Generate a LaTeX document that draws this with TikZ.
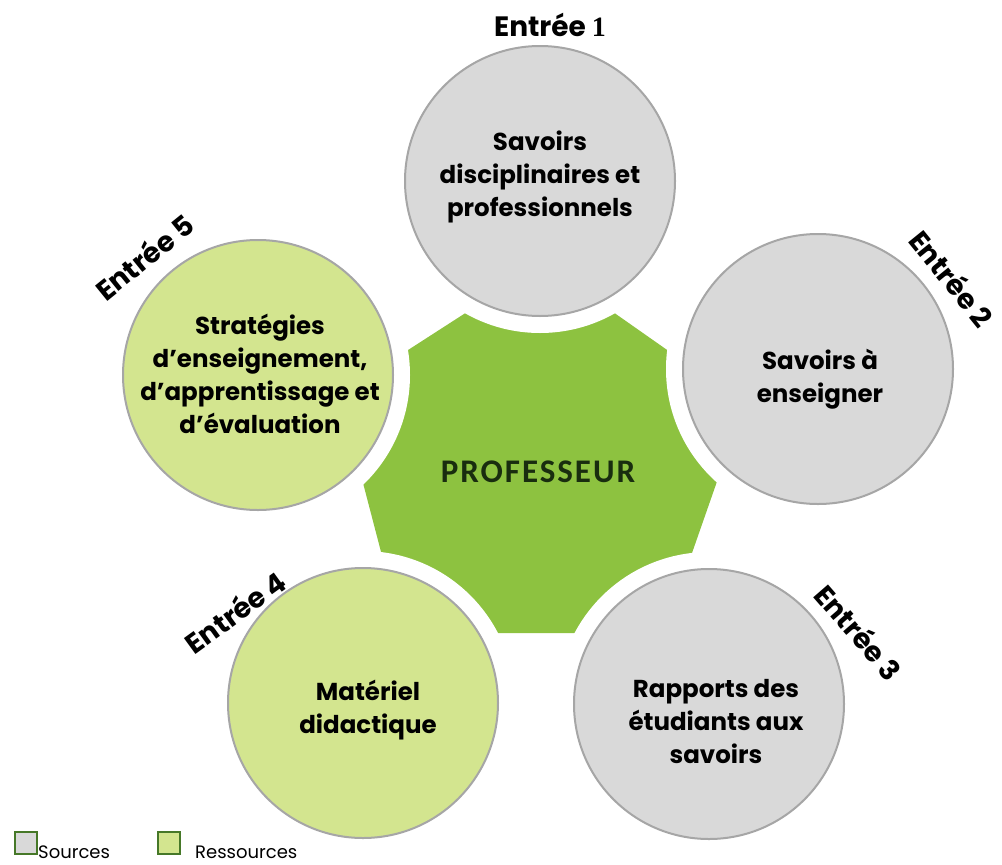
\documentclass[tikz,border=0pt]{standalone}
\usepackage{fontspec}
\setmainfont{Poppins}
\newfontfamily\calib{Carlito}[LetterSpace=6]
\newfontfamily\serfont{Liberation Serif}[UprightFont=* Bold]
\definecolor{grayfill}{RGB}{217,217,217}
\definecolor{grayline}{RGB}{166,166,166}
\definecolor{lgreen}{RGB}{211,229,143}
\definecolor{cgreen}{RGB}{141,194,64}
\definecolor{dgreen}{RGB}{70,120,40}
\definecolor{ptext}{RGB}{25,45,15}
\begin{document}
\begin{tikzpicture}[x=1pt,y=-1pt,
  src/.style={circle, fill=grayfill, draw=grayline, line width=2pt, minimum size=270pt, inner sep=0pt},
  res/.style={src, fill=lgreen},
  lbl/.style={font=\bfseries\fontsize{24.5}{33}\selectfont, align=center, inner sep=0pt},
  entree/.style={font=\bfseries\fontsize{28}{30}\selectfont, inner sep=0pt},
  legbox/.style={draw=dgreen, line width=2pt, minimum size=22pt, inner sep=0pt},
  legtxt/.style={font=\fontsize{18}{18}\selectfont, anchor=base west, inner sep=0pt},
  ]
\useasboundingbox (0,0) rectangle (1002,865);
% straight edges of the central shape
\coordinate (a1) at (613,312); \coordinate (a2) at (670,352);
\coordinate (b1) at (715,487); \coordinate (b2) at (693,550);
\coordinate (c1) at (573,633); \coordinate (c2) at (500,633);
\coordinate (d1) at (380,548); \coordinate (d2) at (363,483);
\coordinate (e1) at (408,350); \coordinate (e2) at (467,312);
\coordinate (P1) at (intersection of e1--e2 and a1--a2);
\coordinate (P2) at (intersection of a1--a2 and b1--b2);
\coordinate (P3) at (intersection of b1--b2 and c1--c2);
\coordinate (P4) at (intersection of c1--c2 and d1--d2);
\coordinate (P5) at (intersection of d1--d2 and e1--e2);
\fill[cgreen] (P1) -- (P2) -- (P3) -- (P4) -- (P5) -- cycle;
% white gaps around the circles
\foreach \p in {(540,181),(818,369),(709,704),(363,703),(258,375)}
  \fill[white] \p circle[radius=152];
% circles
\node[src] (n1) at (540,181) {};
\node[src] (n2) at (818,369) {};
\node[src] (n3) at (709,704) {};
\node[res] (n4) at (363,703) {};
\node[res] (n5) at (258,375) {};
% circle texts
\node[lbl] (t1) at (540,177) {Savoirs\\disciplinaires et\\professionnels};
\node[lbl] (t2) at (820,379) {Savoirs à\\enseigner};
\node[lbl] (t3) at (716,722) {Rapports des\\étudiants aux\\savoirs};
\node[lbl] (t4) at (368,710) {Matériel\\didactique};
\node[lbl] (t5) at (260,374) {Stratégies\\d’enseignement,\\d’apprentissage et\\d’évaluation};
% centre
\node[font=\calib\bfseries\fontsize{33}{33}\selectfont, text=ptext] (prof) at (538,472) {PROFESSEUR};
% entry labels
\node[entree] (e1l) at (550,25) {Entrée {\serfont 1}};
\node[entree, rotate=-51] (e2l) at (952,278) {Entrée 2};
\node[entree, rotate=-49] (e3l) at (859,632) {Entrée 3};
\node[entree, rotate=36] (e4l) at (235,612) {Entrée 4};
\node[entree, rotate=39] (e5l) at (144,257) {Entrée 5};
% legend
\node[legbox, fill=grayfill] (lg1) at (26,843) {};
\node[legtxt] (lt1) at (38,858) {Sources};
\node[legbox, fill=lgreen] (lg2) at (169,843) {};
\node[legtxt] (lt2) at (195,858) {Ressources};
\end{tikzpicture}
\end{document}
